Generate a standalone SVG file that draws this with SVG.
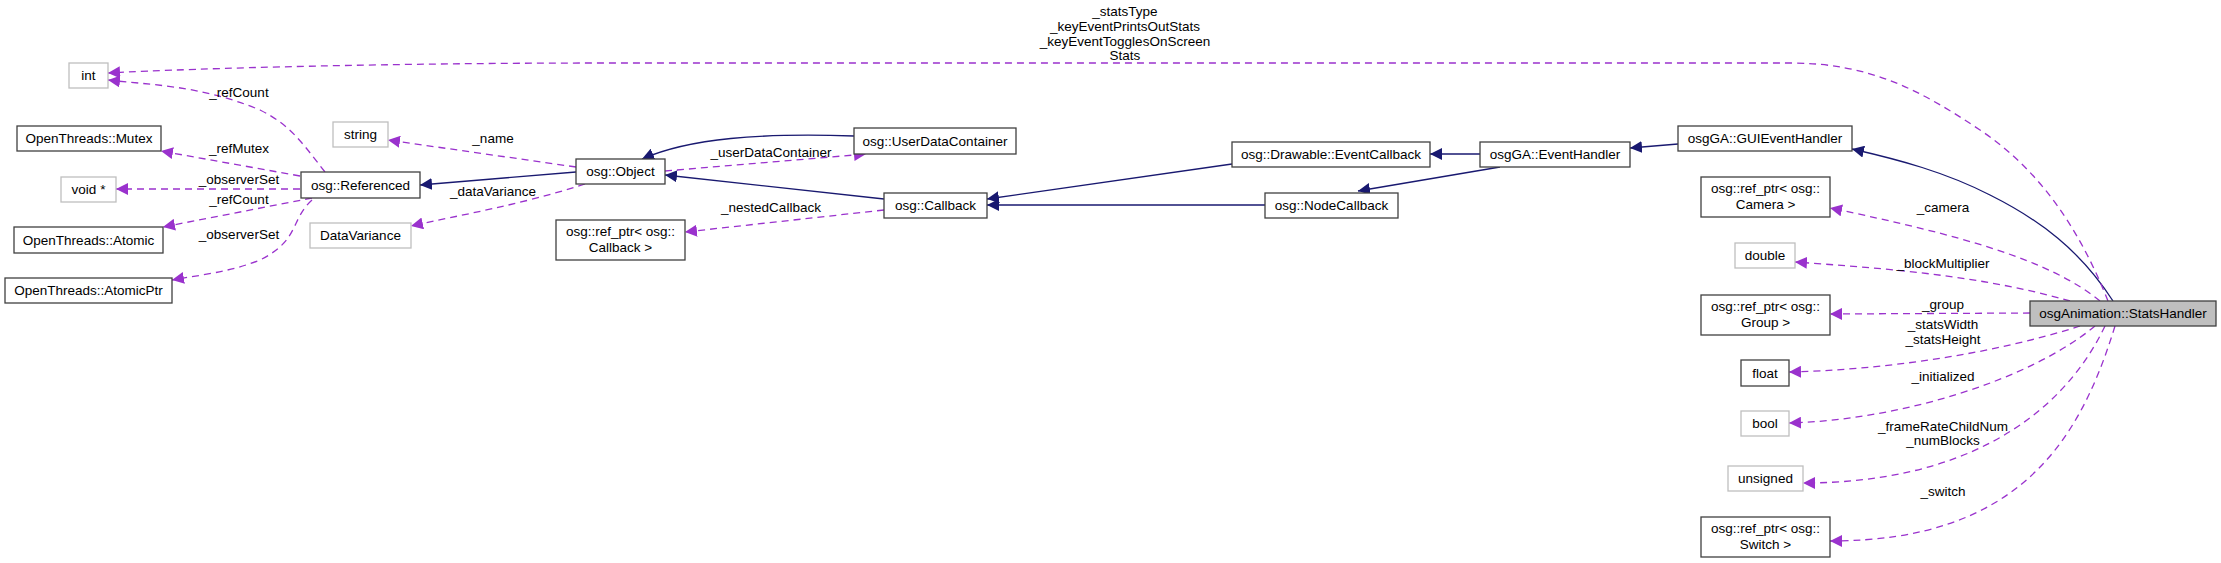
<svg xmlns="http://www.w3.org/2000/svg" width="2221" height="563" viewBox="0 0 2221 563">
<style>
text{font-family:"Liberation Sans",Arial,sans-serif;font-size:13.5px;fill:#000;text-anchor:middle}
.n{fill:#fff;stroke:#404040;stroke-width:1.3}
.g{fill:#fff;stroke:#bfbfbf;stroke-width:1.3}
.h{fill:#bfbfbf;stroke:#404040;stroke-width:1.3}
.inh{fill:none;stroke:#191970;stroke-width:1.3;marker-end:url(#ai)}
.use{fill:none;stroke:#9a32cd;stroke-width:1.3;stroke-dasharray:7,5;marker-end:url(#au)}
</style>
<defs>
<marker id="ai" viewBox="0 0 10 10" refX="10" refY="5" markerWidth="12" markerHeight="12" markerUnits="userSpaceOnUse" orient="auto"><path d="M0,0L10,5L0,10z" fill="#191970"/></marker>
<marker id="au" viewBox="0 0 10 10" refX="10" refY="5" markerWidth="12" markerHeight="12" markerUnits="userSpaceOnUse" orient="auto"><path d="M0,0L10,5L0,10z" fill="#9a32cd"/></marker>
</defs>
<rect width="2221" height="563" fill="#fff"/>
<g id="connectors">
<path class="inh" d="M576,172L420,185"/>
<path class="inh" d="M854,136C760,133 690,138 642,159"/>
<path class="inh" d="M884,199L665,175"/>
<path class="inh" d="M1232,164L987,199"/>
<path class="inh" d="M1265,205L987,205"/>
<path class="inh" d="M1480,154L1430,154"/>
<path class="inh" d="M1500,167L1358,191"/>
<path class="inh" d="M1678,144L1630,148"/>
<path class="inh" d="M2113,301C2080,250 2040,220 1990,195C1945,172 1900,160 1852,149"/>
<path class="use" d="M2108,301C2080,230 2040,170 1980,130C1920,90 1870,63 1790,63L600,63C400,63 200,68 108,73"/>
<path class="use" d="M325,172C300,140 290,125 260,110C200,85 150,85 108,80"/>
<path class="use" d="M300,176L161,151"/>
<path class="use" d="M300,189L116,189"/>
<path class="use" d="M312,198L163,227"/>
<path class="use" d="M312,200C290,220 300,240 260,260C230,272 200,275 172,280"/>
<path class="use" d="M576,167L388,140"/>
<path class="use" d="M585,184C520,205 460,215 411,226"/>
<path class="use" d="M665,171L866,154"/>
<path class="use" d="M884,210L685,232"/>
<path class="use" d="M2100,301C2050,260 1960,235 1830,208"/>
<path class="use" d="M2070,301C1980,275 1880,268 1795,262"/>
<path class="use" d="M2030,313L1830,314"/>
<path class="use" d="M2080,326C1990,355 1880,370 1789,372"/>
<path class="use" d="M2095,326C2030,380 1900,420 1789,423"/>
<path class="use" d="M2105,326C2060,420 1960,483 1803,483"/>
<path class="use" d="M2115,326C2080,440 2020,541 1830,541"/>
</g>
<g id="labels">
<text x="1125" y="16">_statsType</text>
<text x="1125" y="31">_keyEventPrintsOutStats</text>
<text x="1125" y="46">_keyEventTogglesOnScreen</text>
<text x="1125" y="60">Stats</text>
<text x="239" y="97">_refCount</text>
<text x="239" y="153">_refMutex</text>
<text x="239" y="184">_observerSet</text>
<text x="239" y="204">_refCount</text>
<text x="239" y="239">_observerSet</text>
<text x="493" y="143">_name</text>
<text x="493" y="196">_dataVariance</text>
<text x="771" y="157">_userDataContainer</text>
<text x="771" y="212">_nestedCallback</text>
<text x="1943" y="212">_camera</text>
<text x="1943" y="268">_blockMultiplier</text>
<text x="1943" y="309">_group</text>
<text x="1943" y="329">_statsWidth</text>
<text x="1943" y="344">_statsHeight</text>
<text x="1943" y="381">_initialized</text>
<text x="1943" y="431">_frameRateChildNum</text>
<text x="1943" y="445">_numBlocks</text>
<text x="1943" y="496">_switch</text>
</g>
<g id="int"><rect class="g" x="69" y="63" width="39" height="25"/><text x="88.5" y="80">int</text></g>
<g id="mutex"><rect class="n" x="17" y="126" width="144" height="25"/><text x="89" y="143">OpenThreads::Mutex</text></g>
<g id="void"><rect class="g" x="61" y="177" width="55" height="25"/><text x="88.5" y="194">void *</text></g>
<g id="atomic"><rect class="n" x="14" y="227" width="149" height="26"/><text x="88.5" y="245">OpenThreads::Atomic</text></g>
<g id="atomicptr"><rect class="n" x="5" y="278" width="167" height="25"/><text x="88.5" y="295">OpenThreads::AtomicPtr</text></g>
<g id="string"><rect class="g" x="333" y="122" width="55" height="25"/><text x="360.5" y="139">string</text></g>
<g id="referenced"><rect class="n" x="301" y="172" width="119" height="26"/><text x="360.5" y="190">osg::Referenced</text></g>
<g id="datavariance"><rect class="g" x="310" y="223" width="101" height="25"/><text x="360.5" y="240">DataVariance</text></g>
<g id="object"><rect class="n" x="576" y="159" width="89" height="25"/><text x="620.5" y="176">osg::Object</text></g>
<g id="refptr_callback"><rect class="n" x="556" y="220" width="129" height="40"/><text x="620.5" y="236">osg::ref_ptr&lt; osg::</text><text x="620.5" y="252">Callback &gt;</text></g>
<g id="udc"><rect class="n" x="854" y="128" width="162" height="26"/><text x="935" y="146">osg::UserDataContainer</text></g>
<g id="callback"><rect class="n" x="884" y="193" width="103" height="25"/><text x="935.5" y="210">osg::Callback</text></g>
<g id="drawable_ec"><rect class="n" x="1232" y="142" width="198" height="25"/><text x="1331" y="159">osg::Drawable::EventCallback</text></g>
<g id="nodecallback"><rect class="n" x="1265" y="193" width="133" height="25"/><text x="1331.5" y="210">osg::NodeCallback</text></g>
<g id="eventhandler"><rect class="n" x="1480" y="142" width="150" height="25"/><text x="1555" y="159">osgGA::EventHandler</text></g>
<g id="guieventhandler"><rect class="n" x="1678" y="126" width="174" height="25"/><text x="1765" y="143">osgGA::GUIEventHandler</text></g>
<g id="camera"><rect class="n" x="1701" y="177" width="129" height="40"/><text x="1765.5" y="193">osg::ref_ptr&lt; osg::</text><text x="1765.5" y="209">Camera &gt;</text></g>
<g id="double"><rect class="g" x="1735" y="243" width="60" height="25"/><text x="1765" y="260">double</text></g>
<g id="group"><rect class="n" x="1701" y="295" width="129" height="40"/><text x="1765.5" y="311">osg::ref_ptr&lt; osg::</text><text x="1765.5" y="327">Group &gt;</text></g>
<g id="float"><rect class="n" x="1741" y="360" width="48" height="26"/><text x="1765" y="378">float</text></g>
<g id="bool"><rect class="g" x="1741" y="411" width="48" height="25"/><text x="1765" y="428">bool</text></g>
<g id="unsigned"><rect class="g" x="1728" y="466" width="75" height="25"/><text x="1765.5" y="483">unsigned</text></g>
<g id="switch"><rect class="n" x="1701" y="517" width="129" height="40"/><text x="1765.5" y="533">osg::ref_ptr&lt; osg::</text><text x="1765.5" y="549">Switch &gt;</text></g>
<g id="statshandler"><rect class="h" x="2030" y="301" width="186" height="25"/><text x="2123" y="318">osgAnimation::StatsHandler</text></g>
</svg>
